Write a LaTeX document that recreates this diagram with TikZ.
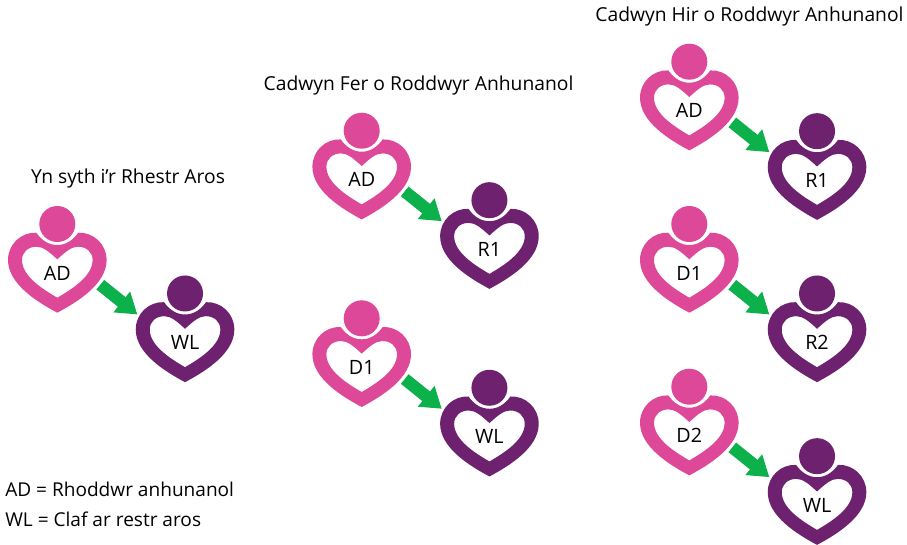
\documentclass[tikz,border=0pt]{standalone}
\usepackage{fontspec}
\setmainfont{Open Sans}
\usetikzlibrary{positioning}
\usetikzlibrary{arrows.meta}
\definecolor{donorpink}{HTML}{DE4899}
\definecolor{waitpurple}{HTML}{6D216F}
\definecolor{linkgreen}{HTML}{0DB14B}
\def\labelfont{\fontsize{14.8}{17}\selectfont}
\def\titlefont{\fontsize{14.45}{17}\selectfont}
\def\keyfont{\fontsize{14.3}{17}\selectfont}
\newcommand{\person}[4]{
  \node[head, fill=#2, #4] (#1) {};
  \begin{scope}[shift={(#1)}]
    \fill[#2, even odd rule] (0,21) .. controls (-8,21) and (-15,17) .. (-21,8.7)
      .. controls (-36,8) and (-49.3,20) .. (-49.3,36)
      .. controls (-49.3,60) and (-20,78) .. (0,88.7)
      .. controls (20,78) and (49.3,60) .. (49.3,36)
      .. controls (49.3,20) and (36,8) .. (21,8.7)
      .. controls (15,17) and (8,21) .. (0,21) -- cycle
      (0,35.3) .. controls (-8,28) and (-14,22.7) .. (-20.7,22.7)
      .. controls (-29,22.7) and (-35.3,28) .. (-35.3,36)
      .. controls (-35.3,52) and (-15,65) .. (0,73.7)
      .. controls (15,65) and (35.3,52) .. (35.3,36)
      .. controls (35.3,28) and (29,22.7) .. (20.7,22.7)
      .. controls (14,22.7) and (8,28) .. (0,35.3) -- cycle;
    \node[tag] (#1tag) at (0,56) {#3};
    \coordinate (#1out) at (43,60.7);
    \coordinate (#1in) at (-47.7,21);
  \end{scope}
}

\begin{document}
\begin{tikzpicture}[x=0.75pt,y=-0.75pt]
\tikzstyle{head}=[circle, inner sep=0pt, minimum size=27pt, on grid, node distance=52.1pt and 95.8pt]
\tikzstyle{tag}=[anchor=base, inner sep=0pt, font=\labelfont]
\tikzstyle{title}=[inner sep=0pt, font=\titlefont]
\tikzstyle{key}=[anchor=base west, inner sep=0pt, font=\keyfont]
\tikzstyle{connect}=[-{Triangle[length=15pt,width=19pt]}, linkgreen, line width=9.2pt]
  \useasboundingbox (0,0) rectangle (907,544);

  % direct to the list
  \person{adA}{donorpink}{AD}{at={(57.3,224)}}
  \person{wlA}{waitpurple}{WL}{below right=of adA}
  \draw[connect] (adAout) -- (wlAin);
  \node[title] (titleA) at (128,178) {Yn syth i’r Rhestr Aros};

  % short chain
  \person{adB}{donorpink}{AD}{at={(361.7,130.7)}}
  \person{rB}{waitpurple}{R1}{below right=of adB}
  \person{dB}{donorpink}{D1}{at={(361.7,318.3)}}
  \person{wlB}{waitpurple}{WL}{below right=of dB}
  \draw[connect] (adBout) -- (rBin);
  \draw[connect] (dBout) -- (wlBin);
  \node[title] (titleB) at (418.5,85) {Cadwyn Fer o Roddwyr Anhunanol};

  % long chain
  \person{adC}{donorpink}{AD}{at={(689.3,61.7)}}
  \person{rC}{waitpurple}{R1}{below right=of adC}
  \person{dC}{donorpink}{D1}{at={(689.3,224)}}
  \person{rrC}{waitpurple}{R2}{below right=of dC}
  \person{ddC}{donorpink}{D2}{at={(689.3,386.7)}}
  \person{wlC}{waitpurple}{WL}{below right=of ddC}
  \draw[connect] (adCout) -- (rCin);
  \draw[connect] (dCout) -- (rrCin);
  \draw[connect] (ddCout) -- (wlCin);
  \node[title] (titleC) at (749.5,16) {Cadwyn Hir o Roddwyr Anhunanol};

  \node[key] (keyA) at (5,496) {AD = Rhoddwr anhunanol};
  \node[key] (keyB) at (5,526) {WL = Claf ar restr aros};
\end{tikzpicture}
\end{document}
